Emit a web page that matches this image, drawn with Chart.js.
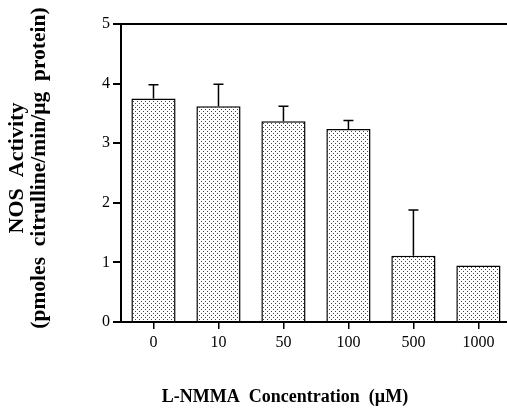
<!DOCTYPE html>
<html>
<head>
<meta charset="utf-8">
<script src="https://cdn.jsdelivr.net/npm/chart.js@4"></script>
<style>
  html, body { margin: 0; padding: 0; background: #fff; }
  #wrap { width: 507px; height: 415px; position: relative; }
</style>
</head>
<body>
<div id="wrap"><canvas id="nosChart"></canvas></div>
<script>
// values
const concentrations = ['0', '10', '50', '100', '500', '1000'];
const nosActivity    = [3.75, 3.62, 3.37, 3.24, 1.11, 0.95];
const errorTop       = [3.98, 3.99, 3.62, 3.38, 1.88, null];
const yTicks         = [0, 1, 2, 3, 4, 5];

const serif = "'Liberation Serif', 'Times New Roman', serif";

function stipple() {
  const c = document.createElement('canvas');
  c.width = 4; c.height = 4;
  const g = c.getContext('2d');
  g.fillStyle = '#fff';
  g.fillRect(0, 0, 4, 4);
  g.fillStyle = '#444';
  g.fillRect(1, 1, 1, 1);
  g.fillRect(3, 3, 1, 1);
  return g.createPattern(c, 'repeat');
}

const errorBars = {
  id: 'errorBars',
  afterDatasetsDraw(chart) {
    const { ctx, scales: { y } } = chart;
    const meta = chart.getDatasetMeta(0);
    ctx.save();
    ctx.strokeStyle = '#000';
    ctx.lineWidth = 1.5;
    errorTop.forEach((e, i) => {
      if (e == null) return;
      const x = meta.data[i].x;
      const top = y.getPixelForValue(e);
      const base = y.getPixelForValue(nosActivity[i]);
      ctx.beginPath();
      ctx.moveTo(x, base);
      ctx.lineTo(x, top);
      ctx.moveTo(x - 5, top);
      ctx.lineTo(x + 5, top);
      ctx.stroke();
    });
    ctx.restore();
  }
};

const axisTitles = {
  id: 'axisTitles',
  afterDraw(chart) {
    const { ctx } = chart;
    ctx.save();
    ctx.fillStyle = '#000';
    ctx.textAlign = 'center';
    ctx.textBaseline = 'alphabetic';
    ctx.font = 'bold 18px ' + serif;
    ctx.fillText('L-NMMA  Concentration  (\u00b5M)', 285, 402);
    ctx.translate(0, 168);
    ctx.rotate(-Math.PI / 2);
    ctx.font = 'bold 22px ' + serif;
    ctx.textBaseline = 'middle';
    ctx.fillText('NOS  Activity', 0, 17);
    ctx.font = 'bold 21.5px ' + serif;
    ctx.fillText('(pmoles  citrulline/min/\u00b5g  protein)', 0, 39);
    ctx.restore();
  }
};

new Chart(document.getElementById('nosChart'), {
  type: 'bar',
  data: {
    datasets: [{
      data: nosActivity.map((v, i) => ({ x: i, y: v })),
      backgroundColor: stipple(),
      borderColor: '#000',
      borderWidth: 1.5,
      borderSkipped: 'bottom',
      barPercentage: 0.68,
      categoryPercentage: 1,
    }],
  },
  options: {
    responsive: true,
    maintainAspectRatio: false,
    animation: false,
    layout: { padding: { top: 24, left: 0, right: 0, bottom: 0 } },
    plugins: { legend: { display: false }, tooltip: { enabled: false } },
    scales: {
      x: {
        type: 'linear',
        min: -0.5,
        max: 5.44,
        offset: false,
        afterFit: s => { s.height = 93; },
        ticks: {
          stepSize: 1,
          includeBounds: false,
          color: '#000',
          padding: 4,
          font: { family: serif, size: 16 },
          callback: v => concentrations[v] ?? '',
        },
        grid: { display: true, offset: false, drawOnChartArea: false, color: '#000', tickColor: '#000', tickLength: 7, lineWidth: 1.5 },
        border: { display: true, color: '#000', width: 2 },
      },
      y: {
        min: 0,
        max: 5,
        afterFit: s => { s.width = 121; },
        afterBuildTicks: s => { s.ticks = yTicks.map(v => ({ value: v })); },
        ticks: { color: '#000', padding: 3, font: { family: serif, size: 16 } },
        grid: {
          color: c => (c.tick && c.tick.value === 5 ? '#000' : 'rgba(0,0,0,0)'),
          tickColor: '#000',
          tickLength: 8,
          lineWidth: 2,
        },
        border: { display: true, color: '#000', width: 2 },
      },
    },
  },
  plugins: [errorBars, axisTitles],
});
</script>
</body>
</html>
